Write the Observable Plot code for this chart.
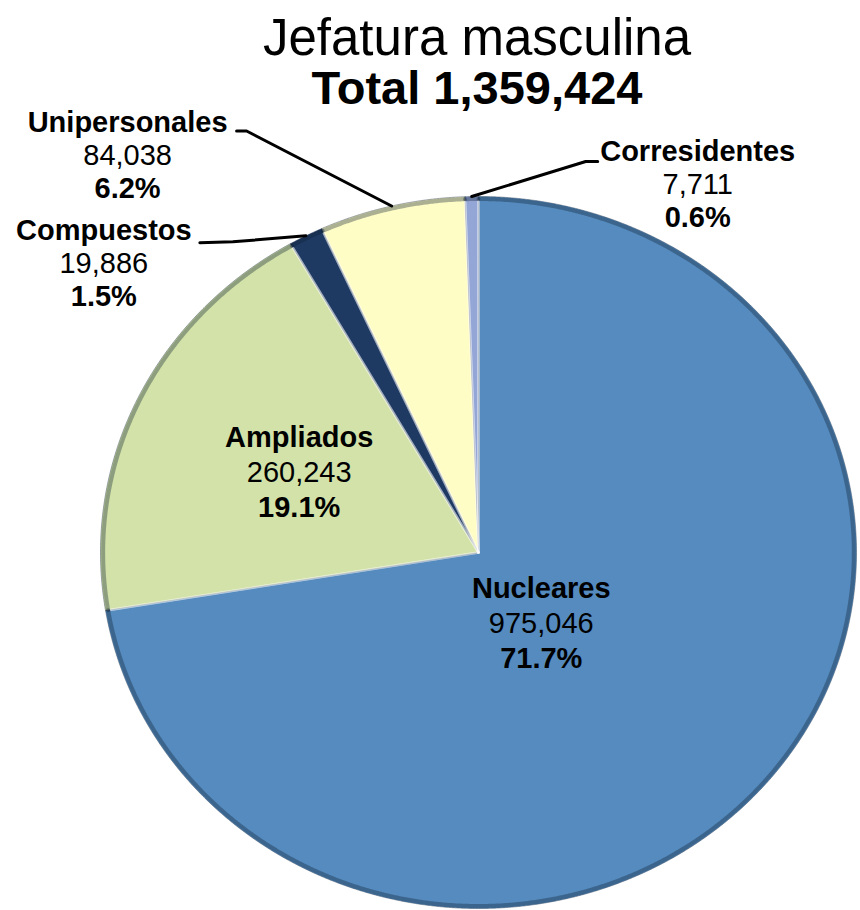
<!DOCTYPE html>
<html>
<head>
<meta charset="utf-8">
<script src="https://cdn.jsdelivr.net/npm/d3@7"></script>
<script src="https://cdn.jsdelivr.net/npm/@observablehq/plot@0.6"></script>
<style>
  html, body { margin: 0; padding: 0; background: #fff; }
  #wrap { width: 860px; font-family: "Liberation Sans", Arial, sans-serif; color: #000; }
  #titles { box-sizing: border-box; height: 113px; padding-top: 13px; padding-left: 94px; text-align: center; }
  #t1 { font-size: 51px; line-height: 50px; }
  #t2 { font-size: 47px; line-height: 50px; font-weight: bold; }
  #chart svg { display: block; }
</style>
</head>
<body>
<div id="wrap">
  <div id="titles"><div id="t1"></div><div id="t2"></div></div>
  <div id="chart"></div>
</div>
<script>
// ---- data ----
const title = "Jefatura masculina";
const totalPrefix = "Total";
const total = 1359424;
const categories = ["Nucleares", "Ampliados", "Compuestos", "Unipersonales", "Corresidentes"];
const values = [975046, 260243, 19886, 84038, 7711];
const percents = ["71.7%", "19.1%", "1.5%", "6.2%", "0.6%"];
const colors = ["#558BBE", "#D2E2A8", "#1E3A62", "#FFFDC6", "#94A6D6"];

// ---- layout (not data) ----
const W = 860, H = 797;
const CX = 478, CY = 439, RX = 378, RY = 356;
const fmt = d3.format(",");
// outside labels: pixel offsets relative to the rim point at the slice mid-angle
const outside = {
  "Unipersonales": {label: [-264, -50], elbow: [-145, -75], end: [-155, -75], gap: 33},
  "Compuestos":    {label: [-202, 28],  elbow: [-73, 6],    end: [-106, 7],   gap: 33},
  "Corresidentes": {label: [226, -12],  elbow: [114, -35],  end: [126, -35],  gap: 33}
};
// inside labels: radius (fraction of pie) and angular nudge (degrees)
const inside = {
  "Nucleares": {r: 0.26, nudge: 10, gap: 35},
  "Ampliados": {r: 0.525, nudge: 0, gap: 35}
};

document.getElementById("t1").textContent = title;
document.getElementById("t2").textContent = totalPrefix + " " + fmt(total);

const arcs = d3.pie().sort(null).startAngle(0).endAngle(2 * Math.PI)(values);
const px2x = (p) => p / RX, px2y = (p) => -p / RY;
const pt = (a, r) => [r * Math.sin(a), r * Math.cos(a)];

// slice polygons
const polys = [];
const rims = [];
const edges = [];
arcs.forEach((a, i) => {
  const name = categories[i];
  const n = Math.max(4, Math.ceil((a.endAngle - a.startAngle) / 0.004));
  polys.push({name, x: 0, y: 0});
  for (let k = 0; k <= n; k++) {
    const ang = a.startAngle + (a.endAngle - a.startAngle) * k / n;
    const [x, y] = pt(ang, 1);
    polys.push({name, x, y});
    const [rx, ry] = pt(ang, 0.993);
    rims.push({name, x: rx, y: ry});
  }
  [a.startAngle, a.endAngle].forEach((ang, j) => {
    const [x, y] = pt(ang, 0.985);
    edges.push({id: name + j, x: 0, y: 0}, {id: name + j, x, y});
  });
});

// labels
const rows = [];
const leaders = [];
arcs.forEach((a, i) => {
  const name = categories[i];
  const mid = (a.startAngle + a.endAngle) / 2;
  let lx, ly, gap;
  if (outside[name]) {
    const o = outside[name];
    const [rx, ry] = pt(mid, 1);
    lx = rx + px2x(o.label[0]); ly = ry + px2y(o.label[1]); gap = o.gap;
    leaders.push({name, x: rx, y: ry});
    leaders.push({name, x: rx + px2x(o.elbow[0]), y: ry + px2y(o.elbow[1])});
    leaders.push({name, x: rx + px2x(o.end[0]), y: ry + px2y(o.end[1])});
  } else {
    const s = inside[name];
    const ang = mid + s.nudge * Math.PI / 180;
    [lx, ly] = pt(ang, s.r); gap = s.gap;
  }
  rows.push({text: name, x: lx, y: ly + px2y(-gap), bold: true});
  rows.push({text: fmt(values[i]), x: lx, y: ly, bold: false});
  rows.push({text: percents[i], x: lx, y: ly + px2y(gap), bold: true});
});

const chart = Plot.plot({
  width: W, height: H,
  marginLeft: CX - RX, marginRight: W - CX - RX,
  marginTop: CY - RY, marginBottom: H - CY - RY,
  x: {domain: [-1, 1], axis: null},
  y: {domain: [-1, 1], axis: null},
  color: {domain: categories, range: colors},
  style: {fontFamily: "'Liberation Sans', Arial, sans-serif", background: "transparent", overflow: "visible"},
  marks: [
    Plot.line(polys, {x: "x", y: "y", z: "name", fill: "name", stroke: "#22344a", strokeOpacity: 0.45, strokeWidth: 1, curve: "linear-closed"}),
    Plot.line(rims, {x: "x", y: "y", z: "name", stroke: "#0d1f33", strokeOpacity: 0.35, strokeWidth: 4}),
    Plot.line(edges, {x: "x", y: "y", z: "id", stroke: "#ffffff", strokeOpacity: 0.35, strokeWidth: 2.5}),
    Plot.line(leaders, {x: "x", y: "y", z: "name", stroke: "#000", strokeWidth: 3}),
    Plot.text(rows.filter(d => d.bold), {x: "x", y: "y", text: "text", fontSize: 29, fontWeight: "bold", fill: "#000", textAnchor: "middle"}),
    Plot.text(rows.filter(d => !d.bold), {x: "x", y: "y", text: "text", fontSize: 29, fill: "#000", textAnchor: "middle"})
  ]
});
document.getElementById("chart").appendChild(chart);
</script>
</body>
</html>
